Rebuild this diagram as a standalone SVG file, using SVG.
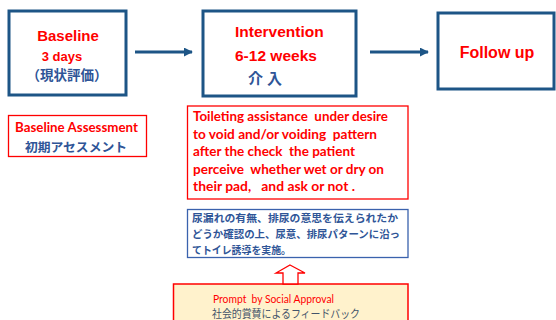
<svg xmlns="http://www.w3.org/2000/svg" width="556" height="320" viewBox="0 0 556 320">
<style>
.stage{fill:#ffffff;stroke:#1d5586;stroke-width:3}
.en{font-family:"Liberation Sans",Arial,sans-serif;font-weight:bold;fill:#ff0000}
.jp{font-family:"Noto Sans CJK JP","Noto Sans",sans-serif;font-weight:bold;fill:#2f5597}
.cal{font-family:Lato,"Liberation Sans",sans-serif;font-weight:bold;fill:#ff0000}
.conn{stroke:#1d5586;stroke-width:3;fill:none}
</style>
<defs>
<marker id="ah" viewBox="0 0 10 10" refX="9" refY="5" markerWidth="3" markerHeight="3" orient="auto" markerUnits="strokeWidth">
<path d="M0,0 L10,5 L0,10 z" fill="#1d5586"/>
</marker>
</defs>
<rect width="556" height="320" fill="#ffffff"/>
<g id="baseline">
<rect class="stage" x="9" y="11" width="117" height="84"/>
<text class="en" x="68" y="41" font-size="15" text-anchor="middle">Baseline</text>
<text class="en" x="62" y="61" font-size="13" text-anchor="middle">3 days</text>
<text class="jp" x="67" y="80" font-size="13.5" text-anchor="middle">（現状評価）</text>
</g>
<g id="intervention">
<rect class="stage" x="203" y="11" width="153" height="85"/>
<text class="en" x="235" y="37" font-size="15.5">Intervention</text>
<text class="en" x="235" y="61" font-size="15.5">6-12 weeks</text>
<text class="jp" x="248" y="84" font-size="15" letter-spacing="4">介入</text>
</g>
<g id="followup">
<rect class="stage" x="438" y="13" width="116" height="76"/>
<text class="en" x="497" y="58" font-size="16" text-anchor="middle">Follow up</text>
</g>
<g id="assessment">
<rect x="8.5" y="115.5" width="138" height="41" fill="#ffffff" stroke="#ff0000" stroke-width="1.3"/>
<text class="cal" x="15" y="132" font-size="12.5" textLength="123" lengthAdjust="spacingAndGlyphs">Baseline Assessment</text>
<text class="jp" x="25" y="152" font-size="12.5" textLength="102" lengthAdjust="spacingAndGlyphs">初期アセスメント</text>
</g>
<g id="toileting">
<rect x="187.5" y="106" width="220.5" height="93" fill="#ffffff" stroke="#ff0000" stroke-width="1.3"/>
<text class="cal" font-size="12.5" xml:space="preserve">
<tspan x="193" y="121" textLength="195" lengthAdjust="spacingAndGlyphs">Toileting assistance  under desire</tspan>
<tspan x="193" y="138.6" textLength="184" lengthAdjust="spacingAndGlyphs">to void and/or voiding  pattern</tspan>
<tspan x="193" y="156.2" textLength="162" lengthAdjust="spacingAndGlyphs">after the check  the patient</tspan>
<tspan x="193" y="173.8" textLength="191" lengthAdjust="spacingAndGlyphs">perceive  whether wet or dry on</tspan>
<tspan x="193" y="191.4" textLength="162" lengthAdjust="spacingAndGlyphs">their pad,   and ask or not .</tspan>
</text>
</g>
<g id="japanese-desc">
<rect x="187.5" y="209.5" width="220.5" height="48" fill="#ffffff" stroke="#3a62ad" stroke-width="1.3"/>
<text class="jp" font-size="10.5" font-weight="900">
<tspan x="192" y="222" textLength="206" lengthAdjust="spacingAndGlyphs">尿漏れの有無、排尿の意思を伝えられたか</tspan>
<tspan x="192" y="238" textLength="208" lengthAdjust="spacingAndGlyphs">どうか確認の上、尿意、排尿パターンに沿っ</tspan>
<tspan x="192" y="253.5" textLength="99" lengthAdjust="spacingAndGlyphs">てトイレ誘導を実施。</tspan>
</text>
</g>
<g id="prompt">
<rect x="173.5" y="284" width="234.5" height="40" fill="#fff2cc" stroke="#ff0000" stroke-width="1.5"/>
<text x="213" y="303" font-family="Lato,'Liberation Sans',sans-serif" font-size="11" fill="#ff0000" textLength="121" lengthAdjust="spacingAndGlyphs" xml:space="preserve">Prompt  by Social Approval</text>
<text x="212" y="318" font-family="'Noto Sans CJK JP','Noto Sans',sans-serif" font-size="11" fill="#44546a" textLength="148" lengthAdjust="spacingAndGlyphs">社会的賞賛によるフィードバック</text>
</g>
<g id="connectors">
<line class="conn" x1="135" y1="52" x2="192" y2="52" marker-end="url(#ah)"/>
<line class="conn" x1="370" y1="52" x2="428" y2="52" marker-end="url(#ah)"/>
<path d="M290,265 L305,273 L298,273 L298,284 L283,284 L283,273 L276,273 Z" fill="#ffffff" stroke="#ff0000" stroke-width="1.3" stroke-linejoin="miter"/>
</g>
</svg>
